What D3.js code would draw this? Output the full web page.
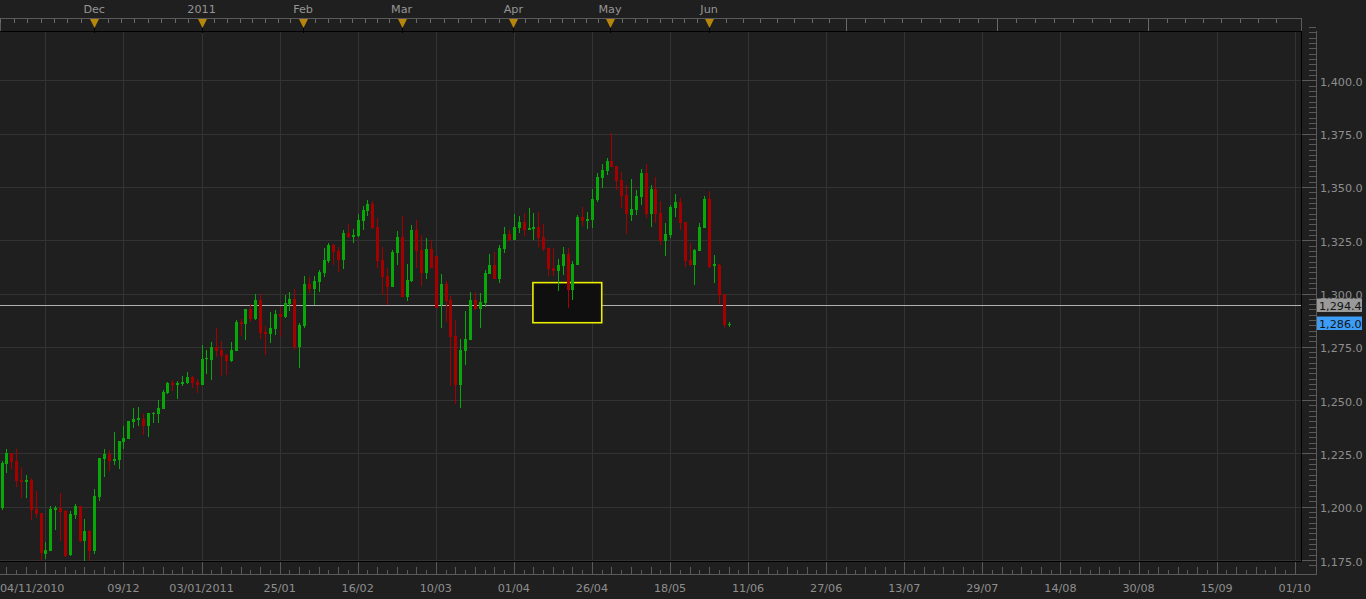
<!DOCTYPE html>
<html><head><meta charset="utf-8">
<script src="https://cdn.jsdelivr.net/npm/d3@7"></script>
<style>
html,body{margin:0;padding:0;background:#1f1f1f;overflow:hidden}
svg{display:block}
text{font-family:"DejaVu Sans",sans-serif;font-size:11.2px}
</style></head>
<body>
<svg id="c" width="1366" height="599"></svg>
<script>
// ---- data ----
const opens  = [1199.3,1220.2,1225.2,1221.4,1212.7,1211.8,1212.5,1198.9,1197.0,1178.0,1179.2,1198.6,1199.4,1198.0,1177.3,1196.2,1200.3,1184.1,1188.6,1179.4,1204.7,1222.5,1224.9,1221.4,1221.9,1230.3,1231.8,1239.7,1241.1,1241.1,1238.0,1243.5,1243.5,1245.8,1253.3,1258.0,1257.6,1257.6,1258.0,1260.7,1258.5,1257.1,1269.3,1268.8,1274.9,1273.5,1271.2,1268.3,1273.0,1286.6,1285.7,1292.7,1288.2,1297.0,1282.1,1281.1,1283.5,1290.4,1289.0,1295.1,1297.4,1274.7,1284.9,1304.5,1302.1,1305.4,1309.6,1315.2,1322.7,1319.9,1315.7,1328.4,1326.5,1327.0,1334.0,1338.7,1342.0,1331.2,1315.7,1308.2,1303.0,1319.0,1326.5,1298.4,1305.9,1329.8,1320.4,1309.6,1320.9,1317.6,1294.6,1304.5,1297.0,1280.1,1257.1,1273.0,1278.2,1297.0,1292.7,1295.5,1309.3,1313.4,1307.0,1320.9,1327.9,1325.1,1330.7,1333.5,1329.8,1330.3,1331.2,1326.5,1321.3,1312.0,1310.6,1312.9,1318.5,1301.6,1313.4,1335.9,1334.0,1334.5,1343.9,1354.2,1357.5,1362.1,1359.8,1353.2,1346.2,1336.8,1339.2,1345.3,1356.5,1337.3,1349.0,1337.8,1324.6,1327.4,1340.1,1342.9,1333.5,1315.7,1313.4,1319.9,1330.7,1344.3,1313.4,1313.4,1299.8,1285.2];
const highs  = [1221.5,1227.1,1225.2,1227.1,1218.6,1214.9,1213.5,1207.4,1197.0,1183.4,1200.3,1200.3,1206.4,1198.5,1198.0,1201.3,1200.3,1194.2,1189.1,1208.3,1222.8,1227.1,1226.6,1235.0,1230.8,1238.0,1240.2,1246.3,1246.8,1243.5,1243.9,1244.4,1250.0,1254.7,1258.5,1259.4,1259.0,1261.3,1263.2,1261.3,1259.9,1275.8,1273.5,1277.2,1283.8,1277.7,1271.6,1277.2,1287.6,1288.0,1292.7,1295.1,1299.8,1299.8,1284.9,1291.3,1292.3,1293.7,1299.3,1300.7,1302.1,1286.3,1308.2,1307.8,1308.2,1311.0,1321.3,1323.7,1323.2,1321.8,1329.8,1332.6,1330.3,1337.3,1341.0,1343.9,1343.4,1335.4,1321.8,1312.0,1320.4,1329.3,1336.4,1313.8,1332.1,1334.5,1327.4,1326.0,1325.1,1317.6,1309.1,1305.9,1298.8,1287.6,1278.7,1291.8,1300.7,1300.7,1300.2,1311.0,1318.5,1319.5,1322.7,1331.2,1329.8,1337.3,1336.4,1337.8,1340.1,1337.8,1338.2,1332.6,1321.3,1321.3,1316.2,1321.8,1321.3,1315.2,1336.8,1340.6,1338.2,1349.0,1356.5,1360.7,1363.6,1375.3,1359.8,1357.0,1350.9,1353.7,1348.5,1358.4,1360.7,1350.9,1354.6,1343.4,1333.1,1341.5,1346.7,1344.8,1333.5,1323.7,1320.9,1333.1,1345.7,1348.1,1318.1,1313.8,1299.8,1286.6];
const lows   = [1198.5,1216.0,1217.8,1209.4,1204.2,1204.2,1193.9,1194.7,1174.5,1175.6,1179.2,1189.2,1184.1,1176.6,1177.0,1194.4,1183.6,1174.7,1174.5,1178.0,1202.8,1214.1,1216.9,1219.6,1217.7,1227.2,1231.8,1236.9,1237.9,1233.6,1232.7,1239.3,1239.3,1245.8,1252.9,1254.3,1250.5,1256.6,1257.6,1255.7,1253.3,1257.1,1262.2,1259.4,1270.2,1261.3,1261.8,1267.9,1273.0,1280.1,1278.2,1286.8,1287.7,1278.8,1271.3,1277.0,1280.7,1279.7,1288.5,1291.8,1273.7,1265.2,1284.0,1300.2,1294.6,1300.7,1307.7,1314.3,1313.4,1310.1,1311.5,1326.0,1323.7,1326.5,1329.8,1336.4,1330.1,1312.0,1299.3,1294.6,1303.0,1313.4,1298.4,1296.5,1305.4,1312.0,1303.5,1306.8,1312.0,1293.2,1283.8,1286.6,1256.6,1248.2,1246.3,1266.5,1278.2,1292.3,1283.8,1293.7,1309.3,1307.0,1305.1,1319.0,1324.6,1325.1,1328.4,1327.0,1329.8,1325.1,1321.8,1319.9,1308.2,1308.2,1301.2,1308.7,1293.2,1297.0,1313.4,1331.6,1330.3,1330.7,1342.9,1349.5,1355.6,1359.3,1348.5,1340.1,1327.9,1334.0,1336.8,1341.5,1335.4,1331.2,1333.1,1322.7,1317.6,1326.0,1335.9,1329.8,1312.4,1312.9,1304.0,1319.9,1330.7,1312.0,1304.9,1295.1,1283.8,1284.3];
const closes = [1220.4,1225.2,1221.1,1212.2,1211.8,1212.7,1198.6,1196.7,1178.1,1179.7,1198.9,1199.5,1197.7,1177.0,1196.6,1200.3,1184.1,1188.6,1179.4,1205.0,1222.8,1224.7,1221.4,1222.4,1230.8,1232.2,1240.2,1241.1,1241.6,1238.0,1243.9,1244.1,1246.3,1253.8,1258.0,1257.6,1258.0,1258.5,1260.8,1258.0,1257.1,1269.3,1269.8,1274.9,1273.0,1270.7,1268.3,1273.5,1286.6,1285.8,1292.7,1288.2,1297.0,1281.7,1281.1,1284.0,1290.4,1289.0,1295.6,1297.4,1274.7,1285.4,1304.5,1302.1,1305.9,1310.1,1315.7,1322.7,1319.5,1315.7,1328.4,1326.5,1327.4,1334.5,1339.2,1342.0,1330.7,1315.2,1307.7,1303.0,1319.5,1326.5,1298.4,1306.3,1329.8,1319.9,1309.6,1320.9,1312.0,1293.2,1304.5,1296.5,1279.6,1257.1,1273.5,1278.7,1297.0,1292.7,1296.0,1309.6,1313.4,1307.0,1321.3,1327.9,1325.1,1331.2,1333.5,1329.8,1330.7,1331.2,1326.0,1320.9,1311.5,1310.6,1313.4,1318.5,1301.6,1313.8,1335.9,1334.0,1334.9,1344.3,1354.6,1357.9,1362.1,1359.3,1352.8,1345.7,1337.3,1339.6,1345.7,1356.5,1337.3,1349.0,1337.3,1324.6,1327.9,1340.6,1342.9,1333.1,1315.2,1313.4,1320.4,1331.2,1344.3,1312.4,1313.8,1299.3,1285.2,1285.7];

// bottom date labels (bar-slot index of each label)
const dateLabels = ["04/11/2010","09/12","03/01/2011","25/01","16/02","10/03","01/04","26/04","18/05","11/06","27/06","13/07","29/07","14/08","30/08","15/09","01/10"];
const dateLabelIdx = [9,25,41,57,73,89,105,121,137,153,169,185,201,217,233,249,265];
// top month markers
const monthNames = ["Dec","2011","Feb","Mar","Apr","May","Jun"];
const monthIdx   = [19,41,61.8,82,104.9,124.7,145];
const monthBoundsAll = [-3,19,41,61.8,82,104.9,124.7,145,173,204,235,265,296];
const futureMonthIdx = [173,204,235];
// y-axis ticks
const yTicks = [1175,1200,1225,1250,1275,1300,1325,1350,1375,1400];
// annotations
const hLineValue = 1294.4;
const lastValue = 1286.0;
const zoneRect = {i0:108.9, i1:123, v0:1305.1, v1:1286.3};

// ---- layout ----
const W=1366, H=599;
const plotL=0, plotR=1301, plotT=31, plotB=561;
const svg=d3.select("#c");
const x=d3.scaleLinear().domain([0,149]).range([1.5,728.6]);
const y=d3.scaleLinear().domain([1175,1425]).range([560,27]);
const fmt=d3.format(",.1f");
const GREEN="#08a808", RED="#a40000";

svg.append("rect").attr("width",W).attr("height",H).attr("fill","#1f1f1f");

const clip=svg.append("clipPath").attr("id","pc").append("rect")
  .attr("x",plotL).attr("y",plotT).attr("width",plotR-plotL).attr("height",plotB-plotT);

// grid
const grid=svg.append("g").attr("shape-rendering","crispEdges");
grid.selectAll("line.h").data(yTicks).join("line")
  .attr("x1",plotL).attr("x2",plotR).attr("y1",d=>Math.round(y(d))+0.5).attr("y2",d=>Math.round(y(d))+0.5)
  .attr("stroke","#333333");
grid.selectAll("line.v").data(dateLabelIdx).join("line")
  .attr("x1",d=>Math.round(x(d))+0.5).attr("x2",d=>Math.round(x(d))+0.5).attr("y1",plotT).attr("y2",plotB)
  .attr("stroke","#333333");

// horizontal level line
svg.append("line").attr("x1",plotL).attr("x2",plotR)
  .attr("y1",Math.round(y(hLineValue))+0.5).attr("y2",Math.round(y(hLineValue))+0.5)
  .attr("stroke","#b0b0b0").attr("shape-rendering","crispEdges");

// zone rectangle
svg.append("rect")
  .attr("x",x(zoneRect.i0)).attr("y",y(zoneRect.v0))
  .attr("width",x(zoneRect.i1)-x(zoneRect.i0)).attr("height",y(zoneRect.v1)-y(zoneRect.v0))
  .attr("fill","#0f0f0f").attr("stroke","#eeee00").attr("stroke-width",1.6);

// candles
const data=opens.map((o,i)=>({i,o,h:highs[i],l:lows[i],c:closes[i]}));
const cg=svg.append("g").attr("clip-path","url(#pc)").attr("shape-rendering","crispEdges");
const cand=cg.selectAll("g").data(data).join("g");
cand.append("line")
  .attr("x1",d=>Math.round(x(d.i))+0.5).attr("x2",d=>Math.round(x(d.i))+0.5)
  .attr("y1",d=>y(d.h)).attr("y2",d=>y(d.l))
  .attr("stroke",d=>d.c>=d.o?GREEN:RED);
cand.append("rect")
  .attr("x",d=>Math.round(x(d.i))-1).attr("width",3)
  .attr("y",d=>y(Math.max(d.o,d.c)))
  .attr("height",d=>Math.max(1.5,Math.abs(y(d.o)-y(d.c))))
  .attr("fill",d=>d.c>=d.o?GREEN:RED);

// plot frame
svg.append("line").attr("x1",plotL).attr("x2",plotR).attr("y1",plotT+0.5).attr("y2",plotT+0.5).attr("stroke","#000");
svg.append("line").attr("x1",plotL).attr("x2",plotR+1).attr("y1",plotB+0.5).attr("y2",plotB+0.5).attr("stroke","#000");
svg.append("line").attr("x1",plotR+0.5).attr("x2",plotR+0.5).attr("y1",plotT).attr("y2",plotB+1).attr("stroke","#000");

// ---- top ruler ----
const ruler=svg.append("g").attr("shape-rendering","crispEdges");
ruler.append("line").attr("x1",0).attr("x2",plotR).attr("y1",18.5).attr("y2",18.5).attr("stroke","#5a5a5a");
ruler.append("line").attr("x1",0.5).attr("x2",0.5).attr("y1",18).attr("y2",31).attr("stroke","#5a5a5a");
ruler.append("line").attr("x1",plotR+0.5).attr("x2",plotR+0.5).attr("y1",18).attr("y2",31).attr("stroke","#5a5a5a");
const sub=[];
for(let k=0;k<monthBoundsAll.length-1;k++){
  const a=monthBoundsAll[k], b=monthBoundsAll[k+1];
  for(let j=1;j<8;j++) sub.push(a+(b-a)*j/8);
}
ruler.selectAll("line.s").data(sub.filter(d=>x(d)>0&&x(d)<plotR)).join("line")
  .attr("x1",d=>Math.round(x(d))+0.5).attr("x2",d=>Math.round(x(d))+0.5)
  .attr("y1",19).attr("y2",23).attr("stroke","#6a6a6a");
ruler.selectAll("line.f").data(futureMonthIdx).join("line")
  .attr("x1",d=>Math.round(x(d))+0.5).attr("x2",d=>Math.round(x(d))+0.5)
  .attr("y1",19).attr("y2",31).attr("stroke","#6a6a6a");
const mk=svg.append("g").selectAll("g").data(monthIdx).join("g")
  .attr("transform",d=>`translate(${Math.round(x(d))+0.5},0)`);
mk.append("line").attr("x1",0).attr("x2",0).attr("y1",27).attr("y2",33).attr("stroke","#000").attr("shape-rendering","crispEdges");
mk.append("path").attr("d","M-4.5,19 L4.5,19 L0,28 Z").attr("fill","#b8860b");
svg.append("g").selectAll("text").data(monthIdx).join("text")
  .attr("x",d=>x(d)).attr("y",13).attr("text-anchor","middle").attr("fill","#959595")
  .text((d,i)=>monthNames[i]);

// ---- bottom axis ----
const xb=svg.append("g").attr("shape-rendering","crispEdges");
xb.append("line").attr("x1",0).attr("x2",1316).attr("y1",574.5).attr("y2",574.5).attr("stroke","#5a5a5a");
const minor=d3.range(1,266,2).filter(d=>!dateLabelIdx.includes(d));
xb.selectAll("line.m").data(minor).join("line")
  .attr("x1",d=>Math.round(x(d))+0.5).attr("x2",d=>Math.round(x(d))+0.5)
  .attr("y1",d=>((d-1)%4===0)?567:570).attr("y2",574).attr("stroke","#5a5a5a");
xb.selectAll("line.M").data(dateLabelIdx).join("line")
  .attr("x1",d=>Math.round(x(d))+0.5).attr("x2",d=>Math.round(x(d))+0.5)
  .attr("y1",562).attr("y2",574).attr("stroke","#5a5a5a");
svg.append("g").selectAll("text").data(dateLabelIdx).join("text")
  .attr("x",(d,i)=>i===0?0:x(d)).attr("y",592)
  .attr("text-anchor",(d,i)=>i===0?"start":"middle").attr("fill","#8e8e8e")
  .text((d,i)=>dateLabels[i]);

// ---- right axis ----
const ya=svg.append("g").attr("shape-rendering","crispEdges");
ya.append("line").attr("x1",1316.5).attr("x2",1316.5).attr("y1",plotT).attr("y2",575).attr("stroke","#5a5a5a");
const yMinor=d3.range(1172.5,1427,2.5).filter(v=>!yTicks.includes(v));
ya.selectAll("line.m").data(yMinor).join("line")
  .attr("x1",1309).attr("x2",1316).attr("y1",d=>Math.round(y(d))+0.5).attr("y2",d=>Math.round(y(d))+0.5)
  .attr("stroke","#5a5a5a");
const yAxis=d3.axisRight(y).tickValues(yTicks).tickSize(14).tickPadding(4).tickFormat(fmt);
const yg=svg.append("g").attr("transform","translate(1302,0)").call(yAxis);
yg.select(".domain").remove();
yg.selectAll(".tick line").attr("stroke","#5a5a5a").attr("shape-rendering","crispEdges");
yg.selectAll(".tick text").attr("fill","#8e8e8e").attr("font-family","DejaVu Sans").attr("font-size","11.2px").attr("dy","0.45em");

// value badges
function badge(v,fill){
  const cy=y(v);
  svg.append("rect").attr("x",1317).attr("y",Math.round(cy)-6.5).attr("width",45).attr("height",13.5).attr("fill",fill);
  svg.append("text").attr("x",1319).attr("y",cy+4.3).attr("fill","#141414").text(fmt(v));
}
badge(hLineValue,"#9a9a9a");
badge(lastValue,"#3d9cf5");
</script>
</body></html>
